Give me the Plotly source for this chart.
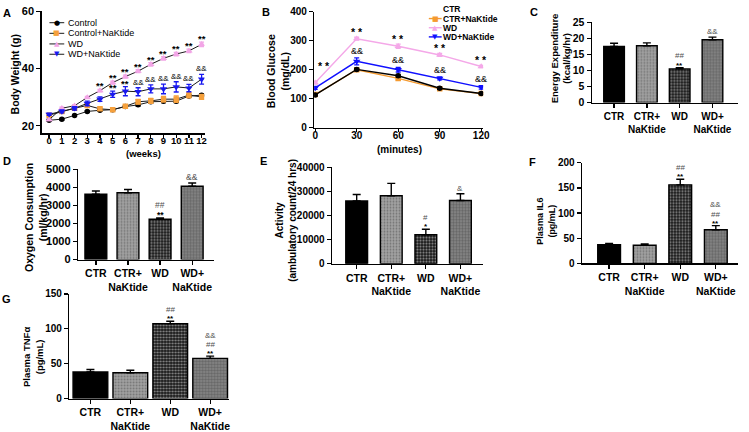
import plotly.graph_objects as go

W, H = 749, 432
FONT = "Liberation Sans, Arial, sans-serif"

# ---------------- Data ----------------
# Panel A: body weight (g) over weeks
weeks = [0, 1, 2, 3, 4, 5, 6, 7, 8, 9, 10, 11, 12]
bw_control = [21.9, 22.3, 23.6, 25.0, 25.4, 25.6, 26.7, 27.3, 28.4, 28.6, 28.6, 30.4, 30.7]
bw_control_err = [0.3, 0.3, 0.3, 0.3, 0.3, 0.3, 0.4, 0.4, 0.5, 0.5, 0.5, 0.5, 0.5]
bw_ctrln = [23.7, 25.0, 26.1, 27.1, 25.9, 25.6, 26.8, 28.4, 28.7, 29.3, 29.3, 30.7, 30.1]
bw_ctrln_err = [0.4, 0.4, 0.4, 0.5, 0.5, 0.5, 0.5, 0.8, 0.9, 1.0, 1.1, 0.9, 0.9]
bw_wd = [22.1, 26.1, 27.0, 29.9, 32.3, 35.1, 37.2, 39.1, 41.5, 43.6, 45.1, 46.2, 48.5]
bw_wd_err = [0.3, 0.4, 0.4, 0.4, 0.4, 0.5, 0.5, 0.5, 0.6, 0.6, 0.6, 0.6, 0.8]
bw_wdn = [24.0, 25.0, 26.1, 27.8, 29.3, 31.0, 32.1, 31.9, 32.9, 32.9, 33.6, 33.2, 36.3]
bw_wdn_err = [0.4, 0.5, 0.6, 0.8, 0.8, 1.1, 1.6, 1.4, 1.4, 1.7, 1.8, 1.3, 1.7]
bw_wd_sig = ["", "", "", "", "**", "**", "**", "**", "**", "**", "**", "**", "**"]
bw_wdn_sig = ["", "", "", "", "", "**", "**", "&&", "&&", "&&", "&&", "&&", "&&"]
legendA_names = ["Control", "Control+NaKtide", "WD", "WD+NaKtide"]

# Panel B: blood glucose (mg/dL) over minutes
minutes = [0, 30, 60, 90, 120]
bg_ctr = [113, 201, 179, 136, 118]
bg_ctr_err = [4, 4, 5, 4, 3]
bg_ctrn = [114, 200, 170, 134, 118]
bg_ctrn_err = [4, 4, 5, 4, 3]
bg_wd = [155, 307, 281, 251, 211]
bg_wd_err = [5, 5, 7, 5, 4]
bg_wdn = [137, 229, 200, 170, 139]
bg_wdn_err = [5, 12, 8, 5, 6]
bg_wd_sig = ["* *", "* *", "* *", "* *", "* *"]
bg_wdn_sig = ["", "&&", "&&", "&&", "&&"]
legendB_names = ["CTR", "CTR+NaKtide", "WD", "WD+NaKtide"]

# Bar panels
groups = ["CTR", "CTR+<br>NaKtide", "WD", "WD+<br>NaKtide"]
ee_vals = [17.5, 17.7, 10.5, 19.6]          # C energy expenditure
ee_err = [1.0, 0.9, 0.4, 0.8]
ee_sig = ["", "", "##|**", "&&"]
vo2_vals = [3620, 3710, 2240, 4070]         # D oxygen consumption
vo2_err = [180, 180, 70, 180]
vo2_sig = ["", "", "##|**", "&&"]
act_vals = [26000, 28200, 12000, 26200]     # E activity
act_err = [2700, 5100, 2300, 2800]
act_sig = ["", "", "#|*", "&"]
il6_vals = [37, 36, 156, 67]                # F plasma IL6
il6_err = [2.6, 2.5, 11, 8]
il6_sig = ["", "", "##|**", "&&|##|**"]
tnf_vals = [38, 37, 107.5, 57.7]            # G plasma TNFa
tnf_err = [3.7, 3.7, 3.3, 3.2]
tnf_sig = ["", "", "##|**", "&&|##|**"]

# ---------------- Helpers ----------------
def pxx(x):
    return x / W


def pxy(y):
    return 1 - y / H


def tf(size):
    return dict(family=FONT, size=size, color="black", weight="bold")


def axis(**kw):
    d = dict(showline=True, linecolor="black", linewidth=1.3, ticks="outside",
             ticklen=4, tickwidth=1.3, tickcolor="black", showgrid=False,
             zeroline=False, tickfont=tf(10), fixedrange=True, tickformat="d",
             tickangle=0)
    d.update(kw)
    return d


def sigfont(s, size):
    if "*" in s:
        return dict(family=FONT, size=size, color="black", weight="bold")
    return dict(family=FONT, size=size, color="#505050")


fig = go.Figure()
annotations = []
shapes = []

# ---------------- Panel A ----------------
colA = ["#000000", "#F5A03C", "#F2A5E6", "#1818F0"]
symA = ["circle", "square", "triangle-up", "triangle-down"]
szA = [5.5, 5.5, 6.5, 6.5]
dataA = [(bw_control, bw_control_err), (bw_ctrln, bw_ctrln_err),
         (bw_wd, bw_wd_err), (bw_wdn, bw_wdn_err)]
for i, (vals, errs) in enumerate(dataA):
    fig.add_trace(go.Scatter(
        x=weeks, y=vals, mode="lines+markers", name=legendA_names[i],
        line=dict(color="#1a1a1a", width=1),
        marker=dict(symbol=symA[i], color=colA[i], size=szA[i], line=dict(width=0)),
        error_y=dict(type="data", array=errs, color=colA[i], thickness=1.3, width=2.5),
        xaxis="x", yaxis="y", showlegend=False))

for i, s in enumerate(bw_wd_sig):
    if s:
        annotations.append(dict(x=weeks[i], y=bw_wd[i] + bw_wd_err[i], xref="x", yref="y",
                                text=s, showarrow=False, yanchor="bottom", yshift=-3,
                                borderpad=0, font=sigfont(s, 9.5)))
for i, s in enumerate(bw_wdn_sig):
    if s:
        f = sigfont(s, 9.5 if s == "**" else 8)
        f["color"] = "black"
        annotations.append(dict(x=weeks[i], y=bw_wdn[i] + bw_wdn_err[i], xref="x", yref="y",
                                text=s, showarrow=False, yanchor="bottom", borderpad=0,
                                yshift=-3 if s == "**" else 0, font=f))

# Legend A (drawn as text/shapes)
glyph = {"circle": "\u25CF", "square": "\u25A0", "triangle-up": "\u25B2", "triangle-down": "\u25BC"}
legA_y = [17.3, 28.3, 39.3, 50.0]
for i, name in enumerate(legendA_names):
    shapes.append(dict(type="line", xref="paper", yref="paper", x0=pxx(48), x1=pxx(63),
                       y0=pxy(legA_y[i]), y1=pxy(legA_y[i]), line=dict(color="#1a1a1a", width=1)))
    annotations.append(dict(x=pxx(55.5), y=pxy(legA_y[i]), xref="paper", yref="paper",
                            text=glyph[symA[i]], showarrow=False, xanchor="center", yanchor="middle",
                            borderpad=0, font=dict(family="DejaVu Sans", size=7, color=colA[i])))
    annotations.append(dict(x=pxx(66), y=pxy(legA_y[i]), xref="paper", yref="paper",
                            text=name, showarrow=False, xanchor="left", yanchor="middle",
                            borderpad=0, font=dict(family=FONT, size=9, color="black")))

# ---------------- Panel B ----------------
colB = ["#000000", "#F59A2F", "#F4A8E8", "#1010FF"]
dataB = [(bg_ctr, bg_ctr_err), (bg_ctrn, bg_ctrn_err), (bg_wd, bg_wd_err), (bg_wdn, bg_wdn_err)]
orderB = [2, 3, 1, 0]
for i in orderB:
    vals, errs = dataB[i]
    fig.add_trace(go.Scatter(
        x=minutes, y=vals, mode="lines+markers", name=legendB_names[i],
        line=dict(color=colB[i], width=1.4),
        marker=dict(symbol=symA[i], color=colB[i], size=szA[i], line=dict(width=0)),
        error_y=dict(type="data", array=errs, color=colB[i], thickness=1.3, width=2.5),
        xaxis="x2", yaxis="y2", showlegend=False))

for i, s in enumerate(bg_wd_sig):
    if i == 0:
        annotations.append(dict(x=minutes[i], y=bg_wd[i] + bg_wd_err[i], xref="x2", yref="y2",
                                text=s, showarrow=False, xanchor="left", yanchor="bottom",
                                xshift=2, yshift=8, borderpad=0, font=sigfont(s, 10.5)))
    else:
        annotations.append(dict(x=minutes[i], y=bg_wd[i] + bg_wd_err[i], xref="x2", yref="y2",
                                text=s, showarrow=False, yanchor="bottom", yshift=-2,
                                borderpad=0, font=sigfont(s, 10.5)))
for i, s in enumerate(bg_wdn_sig):
    if s:
        annotations.append(dict(x=minutes[i], y=bg_wdn[i] + bg_wdn_err[i], xref="x2", yref="y2",
                                text=s, showarrow=False, yanchor="bottom", yshift=1,
                                borderpad=0, font=dict(family=FONT, size=9, color="black")))

legB_y = [3.5, 13.0, 22.5, 32.0]
for i, name in enumerate(legendB_names):
    if i > 0:
        shapes.append(dict(type="line", xref="paper", yref="paper", x0=pxx(432), x1=pxx(445),
                           y0=pxy(legB_y[i]), y1=pxy(legB_y[i]), line=dict(color=colB[i], width=1.4)))
        annotations.append(dict(x=pxx(438.5), y=pxy(legB_y[i]), xref="paper", yref="paper",
                                text=glyph[symA[i]], showarrow=False, xanchor="center", yanchor="middle",
                                borderpad=0, font=dict(family="DejaVu Sans", size=7, color=colB[i])))
    annotations.append(dict(x=pxx(445.5), y=pxy(legB_y[i]), xref="paper", yref="paper",
                            text=name, showarrow=False, xanchor="left", yanchor="middle",
                            borderpad=0, font=tf(8.5)))

# ---------------- Bar panels ----------------
bar_fill = ["#000000", "#a2a2a2", "#161616", "#888888"]
pat_shape = ["", ".", ".", "."]
pat_fg = ["#000000", "#d2d2d2", "#ffffff", "#f0f0f0"]
pat_sol = [0.3, 0.3, 0.42, 0.5]


def add_bars(ax, vals, errs, sig, width, sigsize=8, step=9.1):
    fig.add_trace(go.Bar(
        x=groups, y=vals, width=width, xaxis="x" + ax, yaxis="y" + ax, showlegend=False,
        marker=dict(color=bar_fill, line=dict(color="black", width=1.4),
                    pattern=dict(shape=pat_shape, fgcolor=pat_fg,
                                 size=3, solidity=pat_sol, fillmode="overlay")),
        error_y=dict(type="data", array=errs, arrayminus=[0, 0, 0, 0], symmetric=False,
                     color="black", thickness=1.4, width=4)))
    for i, s in enumerate(sig):
        if not s:
            continue
        parts = s.split("|")[::-1]
        base = -3 if "*" in parts[0] else 0
        for k, p in enumerate(parts):
            annotations.append(dict(x=groups[i], y=vals[i] + errs[i], xref="x" + ax, yref="y" + ax,
                                    text=p, showarrow=False, yanchor="bottom", borderpad=0,
                                    yshift=base + k * step, font=sigfont(p, sigsize)))


add_bars("3", ee_vals, ee_err, ee_sig, 0.63)
add_bars("4", vo2_vals, vo2_err, vo2_sig, 0.68, sigsize=8.5, step=9.7)
add_bars("5", act_vals, act_err, act_sig, 0.63)
add_bars("6", il6_vals, il6_err, il6_sig, 0.64)
add_bars("7", tnf_vals, tnf_err, tnf_sig, 0.87)

# ---------------- Axis titles & panel letters ----------------
def ytitle(x, y, text, size):
    annotations.append(dict(x=pxx(x), y=pxy(y), xref="paper", yref="paper", text=text,
                            textangle=-90, showarrow=False, xanchor="center", yanchor="middle",
                            font=tf(size)))


ytitle(13, 71, "Body Weight (g)", 10.5)
ytitle(279, 68, "Blood Glucose<br>(mg/dL)", 10.5)
ytitle(565, 54, "Energy Expenditure<br>(kcal/kg/hr)", 9.5)
ytitle(35, 219, "Oxygen Consumption<br>(ml/kg/hr)", 10.5)
ytitle(288, 222, "Activity<br>(ambulatory count/24 hrs)", 10)
ytitle(551, 223, "Plasma IL6<br>(pg/mL)", 9)
ytitle(31, 364, "Plasma TNF\u03b1<br>(pg/mL)", 9.5)

annotations.append(dict(x=pxx(125), y=pxy(152.5), xref="paper", yref="paper", text="(weeks)",
                        showarrow=False, borderpad=0, font=tf(9.5)))
annotations.append(dict(x=pxx(402), y=pxy(148.5), xref="paper", yref="paper", text="(minutes)",
                        showarrow=False, borderpad=0, font=tf(10)))

for letter, x, y in [("A", 5, 7), ("B", 267, 6), ("C", 538, 6), ("D", 5, 161),
                     ("E", 265, 161), ("F", 537, 162), ("G", 5, 304)]:
    annotations.append(dict(x=pxx(x), y=pxy(y), xref="paper", yref="paper", text=letter,
                            showarrow=False, xanchor="center", yanchor="middle", font=tf(11)))

# ---------------- Layout ----------------
cat = dict(type="category", categoryorder="array", categoryarray=groups)
layout = dict(
    width=W, height=H, margin=dict(l=0, r=0, t=0, b=0), autosize=False,
    paper_bgcolor="white", plot_bgcolor="white", bargap=0,
    font=dict(family=FONT, color="black"),
    xaxis=axis(domain=[pxx(40), pxx(205)], range=[-0.6, 12.23], anchor="y",
               tickvals=weeks, tickfont=tf(9.5), ticklen=3, ticklabelstandoff=-5),
    yaxis=axis(domain=[pxy(132), pxy(5)], range=[17.3, 60.24], anchor="x",
               tickvals=[20, 40, 60], tickfont=tf(11)),
    xaxis2=axis(domain=[pxx(316), pxx(487)], range=[-0.71, 121.4], anchor="y2",
                tickvals=minutes, tickfont=tf(10), ticklen=3, ticklabelstandoff=-5),
    yaxis2=axis(domain=[pxy(126), pxy(6)], range=[0, 400], anchor="x2",
                tickvals=[0, 100, 200, 300, 400], tickfont=tf(10)),
    xaxis3=axis(domain=[pxx(597), pxx(745)], range=[-0.678, 3.78], anchor="y3",
                tickfont=tf(10), **cat),
    yaxis3=axis(domain=[pxy(100), pxy(17)], range=[0, 25], anchor="x3",
                tickvals=[0, 5, 10, 15, 20, 25], tickfont=tf(10.5)),
    xaxis4=axis(domain=[pxx(77), pxx(215)], range=[-0.554, 3.692], anchor="y4",
                tickfont=tf(10.5), **cat),
    yaxis4=axis(domain=[pxy(262.7), pxy(169.3)], range=[0, 5000], anchor="x4",
                tickvals=[0, 1000, 2000, 3000, 4000, 5000], tickfont=tf(11)),
    xaxis5=axis(domain=[pxx(334), pxx(487)], range=[-0.714, 3.657], anchor="y5",
                tickfont=tf(10.5), **cat),
    yaxis5=axis(domain=[pxy(267), pxy(167)], range=[0, 40000], anchor="x5",
                tickvals=[0, 10000, 20000, 30000, 40000], tickfont=tf(10)),
    xaxis6=axis(domain=[pxx(587), pxx(745)], range=[-0.764, 3.625], anchor="y6",
                tickfont=tf(10.5), **cat),
    yaxis6=axis(domain=[pxy(266.7), pxy(162.3)], range=[0, 200], anchor="x6",
                tickvals=[0, 50, 100, 150, 200], tickfont=tf(10)),
    xaxis7=axis(domain=[pxx(68), pxx(230)], range=[-0.532, 3.478], anchor="y7",
                tickfont=tf(10.5), **cat),
    yaxis7=axis(domain=[pxy(406.7), pxy(298.3)], range=[0, 150], anchor="x7",
                tickvals=[0, 50, 100, 150], tickfont=tf(10)),
    annotations=annotations,
    shapes=shapes,
)
fig.update_layout(**layout)
fig.write_html("out.html", config={"displayModeBar": False, "staticPlot": True},
               post_script="document.body.style.margin='0px';document.body.style.padding='0px';"
                           "document.body.style.overflow='hidden';")
